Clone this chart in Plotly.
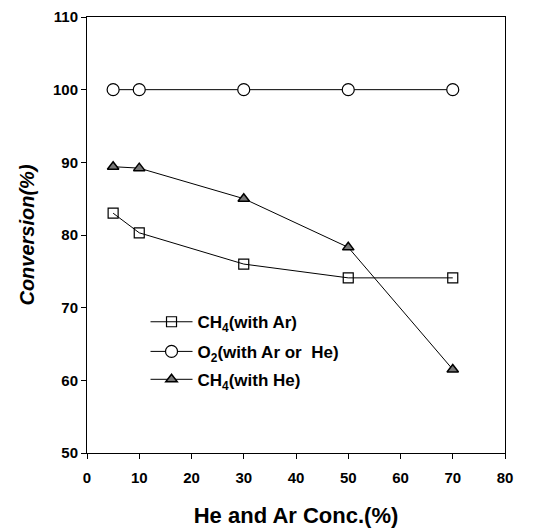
import plotly.graph_objects as go

conc = [5, 10, 30, 50, 70]
ch4_ar = [83.0, 80.3, 76.0, 74.1, 74.1]
o2 = [100, 100, 100, 100, 100]
ch4_he = [89.4, 89.2, 85.0, 78.3, 61.5]

fig = go.Figure()
fig.add_trace(go.Scatter(x=conc, y=ch4_ar, mode="lines+markers", name="CH<sub>4</sub>(with Ar)",
                         legend="legend",
                         line=dict(color="black", width=1),
                         marker=dict(symbol="square-open", size=10, color="black", line=dict(width=1.2))))
fig.add_trace(go.Scatter(x=conc, y=o2, mode="lines+markers", name="O<sub>2</sub>(with Ar or  He)",
                         legend="legend2",
                         line=dict(color="black", width=1),
                         marker=dict(symbol="circle", size=12, color="white", line=dict(width=1.2, color="black"))))
fig.add_trace(go.Scatter(x=conc, y=ch4_he, mode="lines+markers", name="CH<sub>4</sub>(with He)",
                         legend="legend3",
                         line=dict(color="black", width=1),
                         marker=dict(symbol="triangle-up", size=10, color="#777777", line=dict(width=1.5, color="black"))))

leg_common = dict(xanchor="left", yanchor="middle", bgcolor="rgba(0,0,0,0)", itemwidth=42,
                  font=dict(size=17, family="Liberation Sans, Arial", weight="bold"))

fig.update_layout(
    width=548, height=530,
    margin=dict(l=79, r=51, t=9, b=85, autoexpand=False),
    paper_bgcolor="white", plot_bgcolor="white",
    font=dict(family="Liberation Sans, Arial", color="black", size=14),
    showlegend=True,
    legend=dict(x=0.14, y=0.30, **leg_common),
    legend2=dict(x=0.14, y=0.232, **leg_common),
    legend3=dict(x=0.14, y=0.168, **leg_common),
    xaxis=dict(range=[0, 80], dtick=10, ticks="outside", ticklen=5, tickcolor="black", automargin=False,
               showline=True, linecolor="black", linewidth=1, mirror=True, showgrid=False, zeroline=False,
               ticklabelstandoff=6, ticklabeloverflow="allow",
               tickfont=dict(size=15, family="Liberation Sans, Arial", weight="bold"),
               title=dict(text="He and Ar Conc.(%)", font=dict(size=22, weight="bold"), standoff=22)),
    yaxis=dict(range=[50, 110], dtick=10, ticks="outside", ticklen=5, tickcolor="black", automargin=False,
               showline=True, linecolor="black", linewidth=1, mirror=True, showgrid=False, zeroline=False,
               ticklabeloverflow="allow",
               tickfont=dict(size=15, family="Liberation Sans, Arial", weight="bold"),
               title=dict(text="<i>Conversion(%)</i>", font=dict(size=20, weight="bold"), standoff=12)),
)
fig.write_html("out.html")
